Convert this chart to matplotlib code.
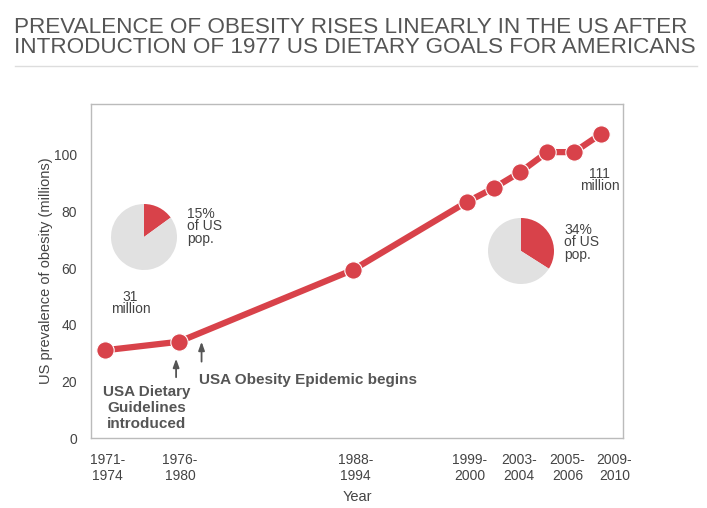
import numpy as np
import matplotlib.pyplot as plt
from matplotlib.lines import Line2D

plt.rcParams['font.family'] = ['Liberation Sans', 'DejaVu Sans']

# data
years = [1972.5, 1978, 1991, 1999.5, 2001.5, 2003.5, 2005.5, 2007.5, 2009.5]
obese_millions = [31, 34, 59.4, 83.4, 88.3, 94, 101, 101, 107.4]
tick_pos = [1972.7, 1978.1, 1991.2, 1999.7, 2003.4, 2007.0, 2010.5]
tick_labels = ['1971-\n1974', '1976-\n1980', '1988-\n1994', '1999-\n2000',
               '2003-\n2004', '2005-\n2006', '2009-\n2010']
pie_1970s = [15, 85]
pie_2010 = [34, 66]

RED = '#d8424a'
GREY_TXT = '#555555'
PIE_GREY = '#e1e1e1'

fig = plt.figure(figsize=(7.07, 5.08), dpi=100)

# title + rule underneath
fig.text(14/707, 1 - 17/508,
         'PREVALENCE OF OBESITY RISES LINEARLY IN THE US AFTER\n'
         'INTRODUCTION OF 1977 US DIETARY GOALS FOR AMERICANS',
         ha='left', va='top', fontsize=16.2, color=GREY_TXT, linespacing=0.92)
fig.add_artist(Line2D([15/707, 697/707], [1 - 66/508, 1 - 66/508],
                      color='#dddddd', lw=1))

ax = fig.add_axes([91/707, 1 - 438/508, 532/707, 334/508])
ax.plot(years, obese_millions, color=RED, lw=4.5, marker='o', ms=12.5,
        mec='white', mew=0.8, solid_capstyle='butt', zorder=3)
ax.set_xlim(1971.45, 2011.15)
ax.set_ylim(0, 118)
ax.set_yticks([0, 20, 40, 60, 80, 100])
ax.set_xticks(tick_pos)
ax.set_xticklabels(tick_labels)
ax.tick_params(length=0, labelsize=10, colors='#444444', pad=11)
ax.tick_params(axis='y', pad=10)
for s in ax.spines.values():
    s.set_color('#bbbbbb')
    s.set_linewidth(1)
ax.set_ylabel('US prevalence of obesity (millions)', fontsize=10.5, color='#444444', labelpad=1)
ax.set_xlabel('Year', fontsize=10.5, color='#444444', labelpad=5)

# value labels
ax.text(years[0] + 1.9, obese_millions[0] + 12, '31\nmillion', ha='center', va='bottom',
        fontsize=10, color='#444444', linespacing=0.85)
ax.text(years[-1] - 0.1, obese_millions[-1] - 11.5, '111\nmillion', ha='center', va='top',
        fontsize=10, color='#444444', linespacing=0.85)

# annotations
ax.annotate('', xy=(years[1] - 0.2, 29), xytext=(years[1] - 0.2, 20.5),
            arrowprops=dict(arrowstyle='-|>,head_length=0.5,head_width=0.18', color='#555555', lw=1.3))
ax.text(years[1] - 2.4, 18.8, 'USA Dietary\nGuidelines\nintroduced', ha='center', va='top',
        fontsize=11, fontweight='bold', color=GREY_TXT, linespacing=1.2)
ax.annotate('', xy=(1979.7, 35), xytext=(1979.7, 26),
            arrowprops=dict(arrowstyle='-|>,head_length=0.5,head_width=0.18', color='#555555', lw=1.3))
ax.text(1979.5, 20.5, 'USA Obesity Epidemic begins', ha='left', va='center',
        fontsize=11, fontweight='bold', color=GREY_TXT)

# pies
pax1 = fig.add_axes([111/707, 1 - 270/508, 66/707, 66/508])
pax1.pie(pie_1970s, colors=[RED, PIE_GREY], startangle=90, counterclock=False)
pax1.set_xlim(-1, 1)
pax1.set_ylim(-1, 1)
pax1.set_aspect('equal')
fig.text(187/707, 1 - 207/508, '15%\nof US\npop.', ha='left', va='top',
         fontsize=10, color='#444444', linespacing=0.85)

pax2 = fig.add_axes([488/707, 1 - 284/508, 66/707, 66/508])
pax2.pie(pie_2010, colors=[RED, PIE_GREY], startangle=90, counterclock=False)
pax2.set_xlim(-1, 1)
pax2.set_ylim(-1, 1)
pax2.set_aspect('equal')
fig.text(564/707, 1 - 223/508, '34%\nof US\npop.', ha='left', va='top',
         fontsize=10, color='#444444', linespacing=0.85)

fig.savefig('out.png', dpi=100)
